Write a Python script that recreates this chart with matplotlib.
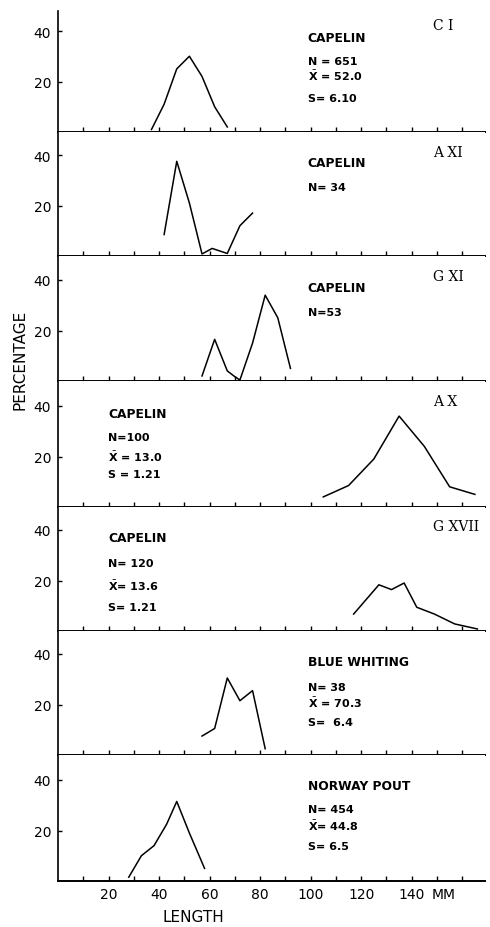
import matplotlib
matplotlib.use('Agg')
import matplotlib.pyplot as plt

plt.rcParams['font.family'] = ['DejaVu Sans']
plt.rcParams['mathtext.fontset'] = 'dejavusans'

# data (length in mm, percentage)
ci_x = [37, 42, 47, 52, 57, 62, 67]
ci_y = [1, 11, 25, 30, 22, 10, 2]
axi_x = [42, 47, 52, 57, 61, 67, 72, 77]
axi_y = [8.5, 37.5, 21, 0.8, 3, 1, 12, 17]
gxi_x = [57, 62, 67, 70, 72, 77, 82, 87, 92]
gxi_y = [2, 16.5, 4, 1.7, 0.4, 15, 34, 25, 5]
ax_x = [105, 115, 125, 135, 145, 155, 165]
ax_y = [4, 8.5, 19, 36, 24, 8, 5]
gxvii_x = [117, 127, 132, 137, 142, 149, 157, 166]
gxvii_y = [6.7, 18.3, 16.4, 19, 9.4, 6.7, 2.8, 0.8]
bw_x = [57, 62, 67, 72, 77, 82]
bw_y = [7.5, 10.5, 30.5, 21.5, 25.5, 2.5]
np_x = [28, 33, 38, 43, 47, 52, 58]
np_y = [1.5, 10, 14, 22.5, 31.5, 19, 5]

series_x = [ci_x, axi_x, gxi_x, ax_x, gxvii_x, bw_x, np_x]
series_y = [ci_y, axi_y, gxi_y, ax_y, gxvii_y, bw_y, np_y]
panel_ids = ['C I', 'A XI', 'G XI', 'A X', 'G XVII', '', '']
species = ['CAPELIN', 'CAPELIN', 'CAPELIN', 'CAPELIN', 'CAPELIN',
           'BLUE WHITING', 'NORWAY POUT']
stats = [
    ['N = 651', r'$\bar{\mathbf{X}}$ = 52.0', 'S= 6.10'],
    ['N= 34'],
    ['N=53'],
    ['N=100', r'$\bar{\mathbf{X}}$ = 13.0', 'S = 1.21'],
    ['N= 120', r'$\bar{\mathbf{X}}$= 13.6', 'S= 1.21'],
    ['N= 38', r'$\bar{\mathbf{X}}$ = 70.3', 'S=  6.4'],
    ['N= 454', r'$\bar{\mathbf{X}}$= 44.8', 'S= 6.5'],
]
yticks = [20, 40]
xticks = list(range(10, 170, 10))
xlabels = [str(t) if t % 20 == 0 and t <= 140 else '' for t in xticks]

# layout (pixels of the 490x928 picture)
W, H = 490, 928
left_px, right_px = 58, 485
tops = [12, 133, 257, 382, 508, 632, 756]
bottoms = [133, 257, 382, 508, 632, 756, 882]
px_per_pct = 2.525
text_x = [0.585, 0.585, 0.585, 0.117, 0.117, 0.585, 0.585]
text_y = [
    [0.777, 0.587, 0.471, 0.281],
    [0.758, 0.556],
    [0.752, 0.552],
    [0.746, 0.556, 0.405, 0.262],
    [0.750, 0.548, 0.371, 0.194],
    [0.758, 0.548, 0.427, 0.266],
    [0.754, 0.571, 0.444, 0.278],
]
id_y = [0.884, 0.839, 0.840, 0.841, 0.847, 0, 0]

fig = plt.figure(figsize=(W / 100, H / 100), dpi=100)

for i in range(7):
    t, b = tops[i], bottoms[i]
    ax = fig.add_axes([left_px / W, 1 - b / H, (right_px - left_px) / W, (b - t) / H])
    ax.plot(series_x[i], series_y[i], color='black', lw=1.1)
    ax.set_xlim(0, 169)
    ax.set_ylim(0, (b - t) / px_per_pct)
    for s in ['top', 'right']:
        ax.spines[s].set_visible(False)
    ax.spines['left'].set_linewidth(1.2)
    ax.spines['bottom'].set_linewidth(1.4)
    ax.set_yticks(yticks)
    ax.set_xticks(xticks)
    ax.tick_params(axis='y', direction='in', length=3, width=1, pad=5, labelsize=10)
    ax.tick_params(axis='x', direction='in', length=3.5, width=1, pad=4, labelsize=10)
    if i == 6:
        ax.set_xticklabels(xlabels)
        ax.annotate('MM', xy=(152.5, 0), xycoords=('data', 'axes fraction'),
                    xytext=(0, -4), textcoords='offset points',
                    ha='center', va='top', fontsize=10)
    else:
        ax.set_xticklabels([])

    # species name first, then the stats lines
    ax.text(text_x[i], text_y[i][0], species[i], transform=ax.transAxes,
            ha='left', va='center', fontsize=8.8, fontweight='bold')
    for line, yy in zip(stats[i], text_y[i][1:]):
        ax.text(text_x[i], yy, line, transform=ax.transAxes, ha='left', va='center',
                fontsize=8, fontweight='bold')
    if panel_ids[i]:
        ax.text(0.878, id_y[i], panel_ids[i], transform=ax.transAxes, ha='left',
                va='center', fontsize=10, family='DejaVu Serif')

fig.text(20 / W, 1 - 360 / H, 'PERCENTAGE', rotation=90, ha='center', va='center', fontsize=11)
fig.text(193 / W, 1 - 918 / H, 'LENGTH', ha='center', va='center', fontsize=11)

fig.savefig('out.png', dpi=100)
